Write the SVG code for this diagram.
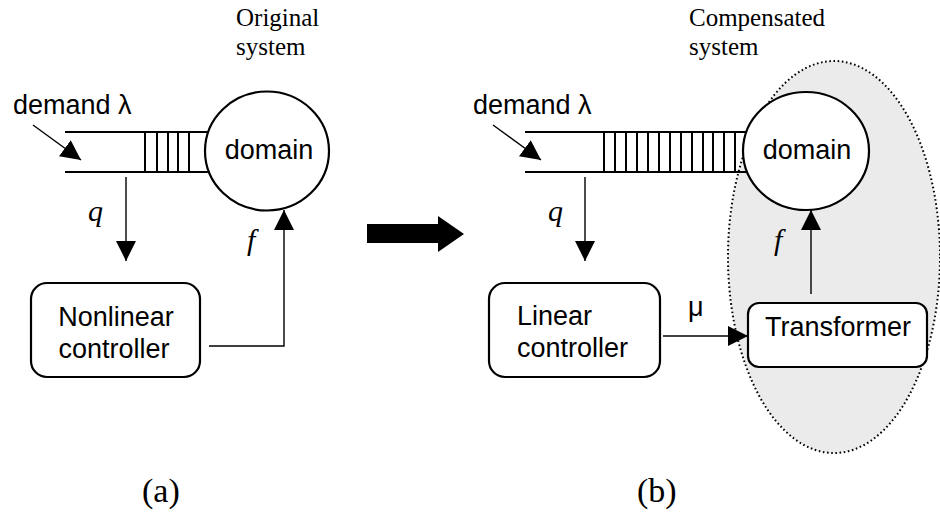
<svg xmlns="http://www.w3.org/2000/svg" width="940" height="514" viewBox="0 0 940 514">
<style>
.sans{font-family:"Liberation Sans",Arial,sans-serif;font-size:27px;fill:#000}
.serif{font-family:"Liberation Serif","Times New Roman",serif;font-size:25px;fill:#000}
.ital{font-family:"Liberation Serif","Times New Roman",serif;font-style:italic;font-size:30px;fill:#000}
.lbl{font-family:"Liberation Serif","Times New Roman",serif;font-size:34px;fill:#000}
.box{fill:#fff;stroke:#000;stroke-width:2.2}
.q{fill:none;stroke:#000;stroke-width:2.2}
.bar{stroke:#000;stroke-width:2}
.conn{fill:none;stroke:#000;stroke-width:1.4}
</style>
<defs>
<marker id="ah" markerUnits="userSpaceOnUse" markerWidth="20" markerHeight="20" refX="20" refY="10" orient="auto">
<path d="M0,0 L20,10 L0,20 z" fill="#000"/>
</marker>
</defs>
<rect width="940" height="514" fill="#fff"/>

<g id="compensated-region">
<ellipse cx="834" cy="257" rx="106" ry="196" fill="#ebebeb" stroke="#000" stroke-width="2" stroke-dasharray="1.6 2.6"/>
<text class="serif" x="689" y="26">Compensated</text>
<text class="serif" x="689" y="55">system</text>
</g>

<g id="queue-a">
<line class="q" x1="65" y1="132" x2="208" y2="132"/>
<line class="q" x1="65" y1="172" x2="208" y2="172"/>
<line class="bar" x1="145" y1="132" x2="145" y2="172"/>
<line class="bar" x1="157" y1="132" x2="157" y2="172"/>
<line class="bar" x1="168" y1="132" x2="168" y2="172"/>
<line class="bar" x1="178" y1="132" x2="178" y2="172"/>
<line class="bar" x1="189" y1="132" x2="189" y2="172"/>
<text class="sans" x="13" y="114">demand λ</text>
</g>

<g id="domain-a">
<ellipse class="box" cx="267" cy="151" rx="62" ry="59.5"/>
<text class="sans" x="269" y="159" text-anchor="middle">domain</text>
<text class="serif" x="236" y="26">Original</text>
<text class="serif" x="236" y="55">system</text>
</g>

<g id="controller-a">
<rect class="box" x="31" y="283" width="169" height="94" rx="16"/>
<text class="sans" x="116" y="326" text-anchor="middle">Nonlinear</text>
<text class="sans" x="114" y="358" text-anchor="middle">controller</text>
</g>

<g id="queue-b">
<line class="q" x1="525" y1="132" x2="747" y2="132"/>
<line class="q" x1="525" y1="172" x2="747" y2="172"/>
<g class="bar">
<line x1="604" y1="132" x2="604" y2="172"/>
<line x1="615" y1="132" x2="615" y2="172"/>
<line x1="626" y1="132" x2="626" y2="172"/>
<line x1="637" y1="132" x2="637" y2="172"/>
<line x1="648" y1="132" x2="648" y2="172"/>
<line x1="659" y1="132" x2="659" y2="172"/>
<line x1="670" y1="132" x2="670" y2="172"/>
<line x1="681" y1="132" x2="681" y2="172"/>
<line x1="692" y1="132" x2="692" y2="172"/>
<line x1="703" y1="132" x2="703" y2="172"/>
<line x1="713" y1="132" x2="713" y2="172"/>
<line x1="724" y1="132" x2="724" y2="172"/>
<line x1="735" y1="132" x2="735" y2="172"/>
</g>
<text class="sans" x="473" y="114">demand λ</text>
</g>

<g id="domain-b">
<ellipse class="box" cx="806" cy="151" rx="63" ry="59"/>
<text class="sans" x="807" y="159" text-anchor="middle">domain</text>
</g>

<g id="controller-b">
<rect class="box" x="489" y="283" width="171" height="94" rx="16"/>
<text class="sans" x="517" y="325">Linear</text>
<text class="sans" x="517" y="357">controller</text>
</g>

<g id="transformer">
<rect class="box" x="748" y="303" width="179" height="64" rx="11"/>
<text class="sans" x="838" y="336" text-anchor="middle">Transformer</text>
</g>

<g id="connectors">
<line class="conn" x1="33" y1="125" x2="81" y2="160" marker-end="url(#ah)" stroke-width="2"/>
<line class="conn" x1="126" y1="177" x2="126" y2="261" marker-end="url(#ah)"/>
<polyline class="conn" points="209,346 284,346 284,210" marker-end="url(#ah)"/>
<line class="conn" x1="493" y1="125" x2="541" y2="160" marker-end="url(#ah)" stroke-width="2"/>
<line class="conn" x1="585" y1="177" x2="585" y2="261" marker-end="url(#ah)"/>
<line class="conn" x1="663" y1="336" x2="748" y2="336" marker-end="url(#ah)"/>
<line class="conn" x1="811" y1="294" x2="811" y2="210" marker-end="url(#ah)"/>
<polygon points="367,224 438,224 438,216 464,234 438,252 438,243 367,243" fill="#000"/>
<text class="ital" x="88" y="221">q</text>
<text class="ital" x="247" y="250">f</text>
<text class="ital" x="548" y="221">q</text>
<text class="ital" x="774" y="250">f</text>
<text class="sans" x="688" y="316">μ</text>
</g>

<g id="labels">
<text class="lbl" x="142" y="502">(a)</text>
<text class="lbl" x="637" y="502">(b)</text>
</g>
</svg>
